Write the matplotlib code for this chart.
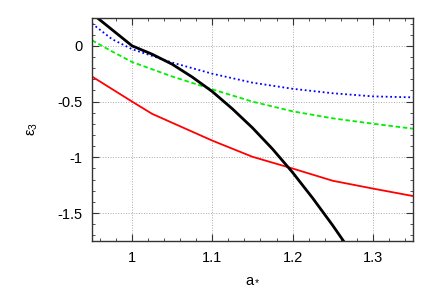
import numpy as np
import matplotlib
matplotlib.use("Agg")
import matplotlib.pyplot as plt
from matplotlib.ticker import MultipleLocator

plt.rcParams['font.family'] = ['Liberation Sans', 'DejaVu Sans']
plt.rcParams['mathtext.fontset'] = 'custom'
plt.rcParams['mathtext.rm'] = 'Liberation Sans'
plt.rcParams['mathtext.it'] = 'Liberation Sans:italic'

# black curve
a_black = [0.95, 1.0, 1.025, 1.05, 1.075, 1.1, 1.125, 1.15, 1.175, 1.2, 1.225, 1.25, 1.275]
eps_black = [0.29, 0.0, -0.075, -0.165, -0.28, -0.41, -0.565, -0.735, -0.925, -1.135, -1.365, -1.61, -1.87]

# red curve
a_red = [0.95, 1.0, 1.025, 1.1, 1.15, 1.2, 1.25, 1.3, 1.35]
eps_red = [-0.275, -0.50, -0.61, -0.85, -0.995, -1.10, -1.21, -1.28, -1.347]

# blue dotted
a_blue = [0.95, 0.975, 1.0, 1.05, 1.1, 1.15, 1.2, 1.25, 1.3, 1.35]
eps_blue = [0.20, 0.06, -0.03, -0.15, -0.25, -0.33, -0.385, -0.425, -0.453, -0.462]

# green dashed
a_green = [0.95, 0.975, 1.0, 1.05, 1.1, 1.15, 1.2, 1.25, 1.3, 1.35]
eps_green = [0.05, -0.05, -0.145, -0.275, -0.39, -0.50, -0.587, -0.65, -0.698, -0.743]

fig = plt.figure(figsize=(4.36, 3.05), dpi=100)
ax = fig.add_axes([0.211, 0.210, 0.736, 0.731])

ax.grid(True, which='major', color='#aaaaaa', linestyle=':', linewidth=0.7)

ax.plot(a_blue, eps_blue, color='#0000ff', linestyle=(0, (1, 1.5)), linewidth=1.3)
ax.plot(a_green, eps_green, color='#00ee00', linestyle=(0, (2.5, 1.5)), linewidth=1.3)
ax.plot(a_red, eps_red, color='#ff0000', linewidth=1.3)
ax.plot(a_black, eps_black, color='black', linewidth=2.0)

ax.set_xlim(0.95, 1.35)
ax.set_ylim(-1.75, 0.25)
ax.xaxis.set_minor_locator(MultipleLocator(0.02))
ax.yaxis.set_minor_locator(MultipleLocator(0.1))
ax.set_xticks([1.0, 1.1, 1.2, 1.3])
ax.set_xticklabels(['1', '1.1', '1.2', '1.3'])
ax.set_yticks([0, -0.5, -1, -1.5])
ax.set_yticklabels(['0', '-0.5', '-1', '-1.5'])

ax.tick_params(which='both', direction='in', top=True, right=True, labelsize=10.5,
               color='#333333')
ax.tick_params(which='major', length=5, pad=7)
ax.tick_params(which='minor', length=2.5)
for s in ax.spines.values():
    s.set_color('#333333')
    s.set_linewidth(1.0)

ax.set_xlabel('a$_*$', fontsize=10.5, labelpad=5)
ax.set_ylabel('ε$_3$', fontsize=10.5, labelpad=12)

fig.savefig('out.png', dpi=100)
